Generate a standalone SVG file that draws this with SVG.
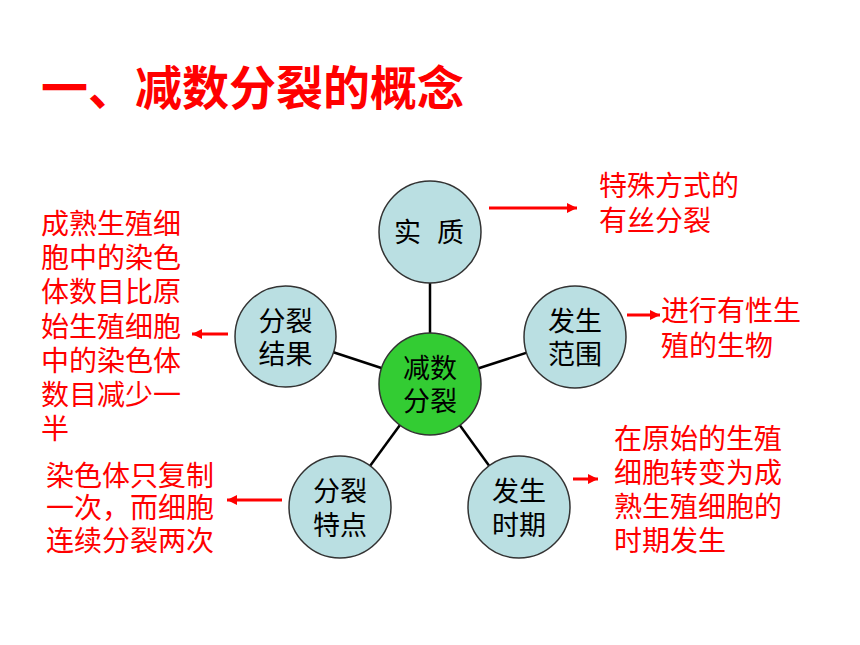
<svg xmlns="http://www.w3.org/2000/svg" width="860" height="645" viewBox="0 0 860 645">
<style>
.node{fill:#badfe2;stroke:#333;stroke-width:1.5}
.core{fill:#33cc33;stroke:#333;stroke-width:1.5}
.lbl{font-family:"Noto Sans CJK SC","Noto Sans CJK JP",sans-serif;font-size:27px;fill:#000;text-anchor:middle}
.note{font-family:"Noto Sans CJK SC","Noto Sans CJK JP",sans-serif;font-size:28px;fill:#ff0000}
.title{font-family:"Noto Sans CJK SC","Noto Sans CJK JP",sans-serif;font-size:47px;font-weight:bold;fill:#ff0000}
.link{stroke:#000;stroke-width:2.5;fill:none}
.arr{stroke:#ff0000;stroke-width:3;fill:none;marker-end:url(#ah)}
</style>
<defs>
<marker id="ah" viewBox="0 0 10 10" refX="10" refY="5" markerWidth="10" markerHeight="10" markerUnits="userSpaceOnUse" orient="auto">
<path d="M0,0 L10,5 L0,10 Z" fill="#ff0000"/>
</marker>
</defs>
<rect width="860" height="645" fill="#fff"/>
<text class="title" x="41" y="105">一、减数分裂的概念</text>
<g id="connectors">
<line class="link" x1="430" y1="384" x2="430" y2="232"/>
<line class="link" x1="430" y1="384" x2="285.5" y2="336.5"/>
<line class="link" x1="430" y1="384" x2="575" y2="337"/>
<line class="link" x1="430" y1="384" x2="340" y2="507"/>
<line class="link" x1="430" y1="384" x2="519" y2="507"/>
<line class="arr" x1="489" y1="208" x2="577" y2="208"/>
<line class="arr" x1="627" y1="315" x2="660" y2="315"/>
<line class="arr" x1="573" y1="479" x2="598" y2="479"/>
<line class="arr" x1="228" y1="334" x2="192" y2="334"/>
<line class="arr" x1="282" y1="500" x2="227" y2="500"/>
</g>
<g id="n-shizhi">
<circle class="node" cx="430" cy="232" r="51"/>
<text class="lbl" y="242"><tspan x="407.5">实</tspan><tspan x="450.5">质</tspan></text>
</g>
<g id="n-jieguo">
<circle class="node" cx="285.5" cy="336.5" r="50.5"/>
<text class="lbl" y="330.5"><tspan x="285.5">分裂</tspan><tspan x="285.5" dy="33">结果</tspan></text>
</g>
<g id="n-fanwei">
<circle class="node" cx="575" cy="337" r="51"/>
<text class="lbl" y="330.5"><tspan x="575">发生</tspan><tspan x="575" dy="33">范围</tspan></text>
</g>
<g id="n-core">
<circle class="core" cx="430" cy="384" r="51"/>
<text class="lbl" y="377.5"><tspan x="430">减数</tspan><tspan x="430" dy="33">分裂</tspan></text>
</g>
<g id="n-tedian">
<circle class="node" cx="340" cy="507" r="51"/>
<text class="lbl" y="501"><tspan x="340">分裂</tspan><tspan x="340" dy="34">特点</tspan></text>
</g>
<g id="n-shiqi">
<circle class="node" cx="519" cy="507" r="51"/>
<text class="lbl" y="501"><tspan x="519">发生</tspan><tspan x="519" dy="34">时期</tspan></text>
</g>
<g id="t-result">
<text class="note" y="234"><tspan x="41">成熟生殖细</tspan><tspan x="41" dy="34">胞中的染色</tspan><tspan x="41" dy="34">体数目比原</tspan><tspan x="41" dy="35">始生殖细胞</tspan><tspan x="41" dy="34">中的染色体</tspan><tspan x="41" dy="34">数目减少一</tspan><tspan x="41" dy="34">半</tspan></text>
</g>
<g id="t-feature">
<text class="note" y="485.5"><tspan x="46">染色体只复制</tspan><tspan x="46" dy="32.5">一次，而细胞</tspan><tspan x="46" dy="32.5">连续分裂两次</tspan></text>
</g>
<g id="t-essence">
<text class="note" y="195.5"><tspan x="599">特殊方式的</tspan><tspan x="599" dy="35">有丝分裂</tspan></text>
</g>
<g id="t-range">
<text class="note" y="320.5"><tspan x="661">进行有性生</tspan><tspan x="661" dy="35">殖的生物</tspan></text>
</g>
<g id="t-period">
<text class="note" y="448.5"><tspan x="614">在原始的生殖</tspan><tspan x="614" dy="34">细胞转变为成</tspan><tspan x="614" dy="34.5">熟生殖细胞的</tspan><tspan x="614" dy="34">时期发生</tspan></text>
</g>
</svg>
